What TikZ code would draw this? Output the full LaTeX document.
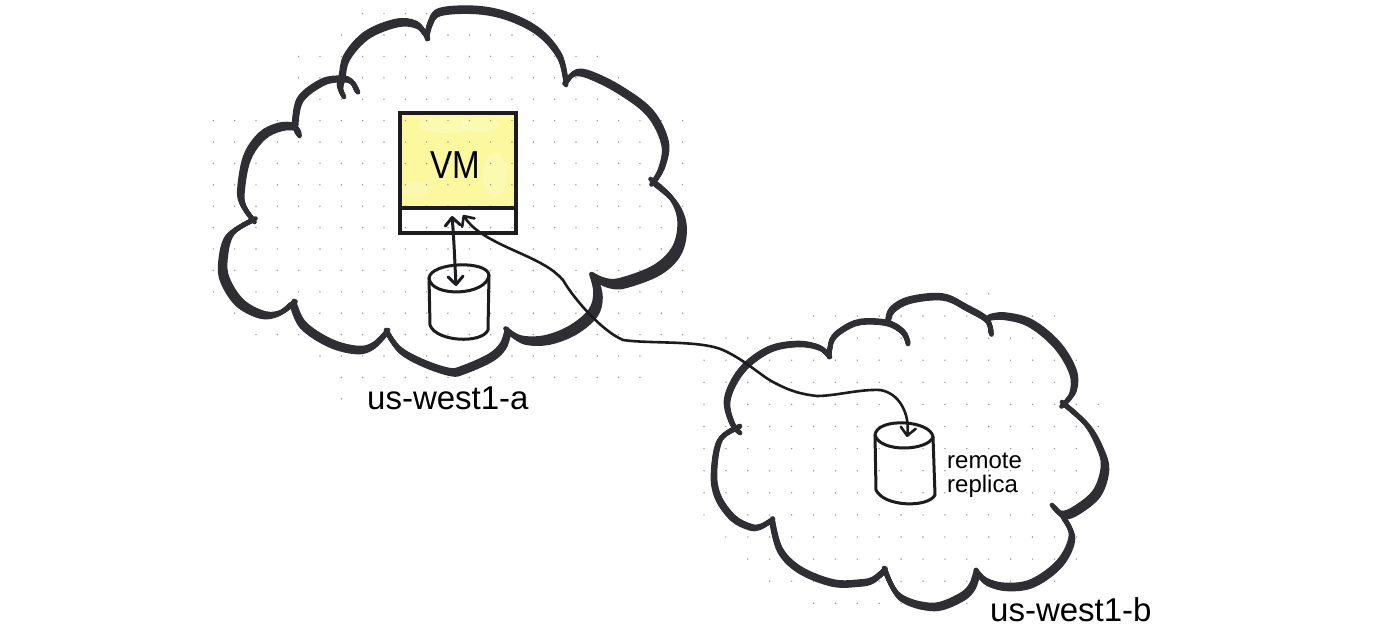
\documentclass[tikz,border=0pt]{standalone}
\usepackage{fontspec}
\setmainfont{Liberation Sans}
\usetikzlibrary{arrows.meta}
\definecolor{ink}{HTML}{2E2E33}
\definecolor{pen}{HTML}{1C1C1E}
\definecolor{marker}{HTML}{FCF8A0}
\definecolor{gridgray}{HTML}{9A9A9A}
\tikzset{
  cloudink/.style={ink,line width=4.6,line cap=round,line join=round},
  penline/.style={pen,line width=3,line cap=round,line join=round},
  wire/.style={pen,line width=2.6,line cap=round},
  griddot/.style={gridgray},
  zonelabel/.style={font=\fontsize{33}{36}\selectfont,text=black,inner sep=0pt,anchor=base west},
  handlabel/.style={font=\fontsize{24}{24}\selectfont,text=black,inner sep=0pt,anchor=base west,align=left},
  panel/.style={draw=pen,line width=3.2,minimum width=116pt,inner sep=0pt,outer sep=0pt,anchor=north west}
}
\newcommand{\inklobe}[3]{%
  \foreach \t in {-.5,-.25,0,.25,.5}
    \draw[cloudink,shift={({\t*(#1)},{\t*(#2)})}] plot[smooth,tension=.6] coordinates {#3};}
\newcommand{\dotrowA}[3]{%
  \foreach \k in {#2,...,#3}
    \fill[griddot] ({469.3+21.33*\k},{35+21.4*(#1)}) circle (.8);}
\newcommand{\dotrowB}[3]{%
  \foreach \k in {#2,...,#3}
    \fill[griddot] ({704+21.9*\k},{316+22.1*(#1)}) circle (.8);}
\begin{document}
\begin{tikzpicture}[x=1pt,y=-1pt]
\useasboundingbox (0,0) rectangle (1400,640);
\fill[white] (0,0) rectangle (1400,640);

% yellow marker under the grid
\fill[marker] (401,114) rectangle (516,207);
\begin{scope}
  \clip (401,114) rectangle (516,207);
  \fill[white,opacity=.18] (445,125) ellipse (28 and 8);
  \fill[white,opacity=.18] (495,175) ellipse (12 and 22);
  \fill[white,opacity=.15] (415,190) ellipse (14 and 9);
  \fill[white,opacity=.18] (480,125) ellipse (20 and 7);
\end{scope}

% dotted paper
\dotrowA{-1}{-5}{3}
\dotrowA{0}{-6}{4}
\dotrowA{1}{-8}{6}
\dotrowA{2}{-8}{7}
\dotrowA{3}{-8}{7}
\foreach \j in {4,...,12} {\dotrowA{\j}{-12}{10}}
\dotrowA{13}{-11}{10}
\dotrowA{14}{-10}{10}
\dotrowA{15}{-7}{8}
\dotrowA{16}{-6}{8}
\dotrowA{17}{-6}{-6}
\dotrowB{-1}{12}{13}
\dotrowB{0}{5}{16}
\dotrowB{1}{0}{16}
\dotrowB{2}{0}{17}
\dotrowB{3}{0}{17}
\dotrowB{4}{0}{18}
\dotrowB{5}{0}{18}
\dotrowB{6}{0}{18}
\dotrowB{7}{0}{17}
\dotrowB{8}{0}{17}
\dotrowB{9}{0}{15}
\dotrowB{10}{1}{17}
\dotrowB{11}{2}{17}
\dotrowB{12}{3}{16}
\dotrowB{13}{5}{12}

% cloud us-west1-a
\inklobe{3}{4}{(253,220) (243,205) (241,190) (247,158) (262,136) (280,127) (295,127) (298,134)}
\inklobe{2}{2.5}{(295,128) (300,100) (323,82) (343,79) (352,82) (357,91)}
\inklobe{2}{4}{(343,95) (340,87) (342,77) (347,57) (367,35) (397,23) (417,25) (427,37)}
\inklobe{0}{4}{(427,37) (430,24) (440,12) (477,10) (510,17) (540,33) (560,57) (566,83)}
\inklobe{3}{-3}{(566,82) (575,73) (590,75) (620,90) (650,113) (665,143) (662,167) (653,183)}
\inklobe{5}{6}{(653,182) (673,200) (682,223) (677,250) (657,270) (623,283) (607,283) (594,277)}
\inklobe{5}{5}{(594,277) (598,295) (593,313) (573,330) (547,340) (523,340) (508,331)}
\inklobe{2}{4}{(508,331) (503,346) (490,358) (463,370) (450,372) (423,363) (400,350) (387,332)}
\inklobe{-2}{4}{(387,332) (373,346) (357,350) (330,343) (303,325) (293,303)}
\inklobe{-5}{3}{(293,303) (280,313) (263,315) (240,303) (225,280) (223,260) (230,235) (253,220)}

% cloud us-west1-b
\inklobe{-2}{-2}{(739,432) (732,423) (727,402) (735,380) (750,362) (773,348) (800,344) (820,348) (829,356)}
\inklobe{0}{2}{(829,356) (832,340) (842,330) (860,322) (887,323) (903,332) (908,343)}
\inklobe{1}{3}{(888,322) (892,310) (910,300) (943,297) (967,308) (987,320) (991,333)}
\inklobe{3}{-3}{(988,318) (1003,316) (1030,323) (1057,345) (1073,372) (1073,392) (1063,405)}
\inklobe{4}{4}{(1064,404) (1087,425) (1100,448) (1105,468) (1097,493) (1077,510) (1063,515) (1054,507)}
\inklobe{2}{4}{(1063,517) (1072,537) (1060,563) (1033,583) (1007,587) (987,582) (977,572)}
\inklobe{2}{4}{(977,572) (972,587) (960,598) (933,607) (900,597) (885,570)}
\inklobe{-1}{3}{(885,570) (873,580) (860,583) (833,583) (800,570) (780,550) (772,520)}
\inklobe{-2}{2}{(772,520) (760,527) (750,527) (733,518) (718,497) (714,473) (720,440) (739,427)}

% VM with its attached disk panel
\node[panel,minimum height=95pt] (vm) at (400,113) {};
\node[panel,minimum height=25pt] (port) at (vm.south west) {};
\draw[pen,line width=4.5] (vm.south west) -- (vm.south east);
\node[font=\fontsize{39}{40}\selectfont,xscale=.85,inner sep=0pt] (vmlabel) at (455,165) {VM};

% disk in us-west1-a
\draw[penline] (429,278) .. controls (431,262) and (487,260) .. (489,275)
               .. controls (487,296) and (431,298) .. (429,278) -- cycle;
\draw[penline] (429,278) -- (430,325) .. controls (436,342) and (482,344) .. (488,330) -- (489,275);
% disk in us-west1-b
\draw[penline] (875,435) .. controls (877,417) and (931,420) .. (933,437)
               .. controls (928,451) and (880,453) .. (875,435) -- cycle;
\draw[penline] (875,435) -- (876,490) .. controls (884,507) and (928,508) .. (935,495) -- (933,437);

% connector anchors
\coordinate (a1) at (452,216);
\coordinate (a2) at (456,286);
\coordinate (b1) at (463,215);
\coordinate (b2) at (907,437);
\draw[wire,line width=3,{Straight Barb[length=8pt,width=15pt,round]}-{Straight Barb[length=8pt,width=15pt,round]}]
  (a1) .. controls (454,240) and (455,265) .. (a2);
\draw[wire,{Straight Barb[length=8pt,width=15pt,round]}-{Straight Barb[length=8pt,width=15pt,round]}]
  (b1) .. controls (472,228) and (482,236) .. (513,250)
       .. controls (540,262) and (552,268) .. (563,280)
       .. controls (572,296) and (600,330) .. (623,340)
       .. controls (650,344) and (700,340) .. (723,350)
       .. controls (745,360) and (760,375) .. (773,382)
       .. controls (790,391) and (800,394) .. (817,396)
       .. controls (835,396) and (860,389) .. (880,390)
       .. controls (900,393) and (910,415) .. (b2);

% labels
\node[zonelabel] (zonea) at (367,409) {us-west1-a};
\node[zonelabel] (zoneb) at (990,621) {us-west1-b};
\node[handlabel] (replica) at (947,492) {remote\\replica};
\end{tikzpicture}
\end{document}
